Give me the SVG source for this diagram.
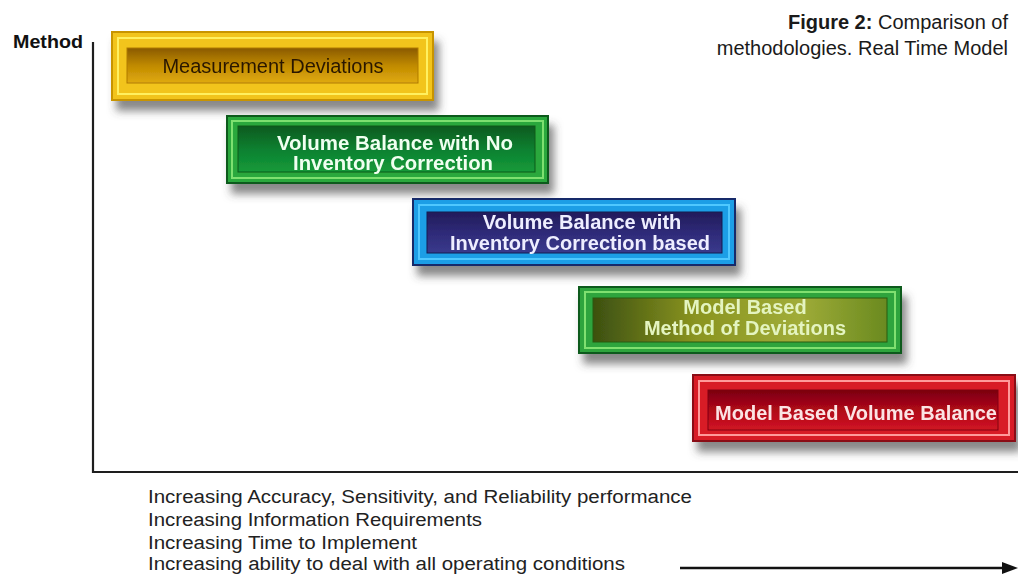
<svg xmlns="http://www.w3.org/2000/svg" width="1018" height="575" viewBox="0 0 1018 575">
<defs>
<filter id="sh" x="-10%" y="-20%" width="130%" height="160%">
<feDropShadow dx="5" dy="10" stdDeviation="4" flood-color="#4a4a4a" flood-opacity="0.65"/>
</filter>
<linearGradient id="gY" x1="0" y1="0" x2="0" y2="1"><stop offset="0" stop-color="#8a5a00"/><stop offset="0.5" stop-color="#c08a00"/><stop offset="1" stop-color="#e0aa10"/></linearGradient>
<linearGradient id="gG" x1="0" y1="0" x2="0" y2="1"><stop offset="0" stop-color="#0a5a20"/><stop offset="0.5" stop-color="#0e8030"/><stop offset="1" stop-color="#149a3a"/></linearGradient>
<linearGradient id="gB" x1="0" y1="0" x2="0" y2="1"><stop offset="0" stop-color="#221c5a"/><stop offset="0.5" stop-color="#2e2a78"/><stop offset="1" stop-color="#3a3a8c"/></linearGradient>
<linearGradient id="gO" x1="0" y1="0" x2="1" y2="0"><stop offset="0" stop-color="#3c5010"/><stop offset="0.35" stop-color="#8a9420"/><stop offset="0.7" stop-color="#a0ac38"/><stop offset="1" stop-color="#6a8a20"/></linearGradient>
<linearGradient id="gR" x1="0" y1="0" x2="0" y2="1"><stop offset="0" stop-color="#7a0010"/><stop offset="0.5" stop-color="#b00818"/><stop offset="1" stop-color="#d01424"/></linearGradient>
</defs>
<style>
text{font-family:"Liberation Sans",Arial,sans-serif}
.bt{font-size:20px;font-weight:bold;text-anchor:middle}
.ax{stroke:#1e1e1e;stroke-width:2.2;fill:none}
.lbl{font-size:18px;fill:#222}
</style>
<rect width="1018" height="575" fill="#ffffff"/>

<g id="caption">
<text x="1008" y="29" font-size="20" text-anchor="end" fill="#1a1a1a"><tspan font-weight="bold">Figure 2:</tspan> Comparison of</text>
<text x="1008" y="55" font-size="20" text-anchor="end" fill="#1a1a1a">methodologies. Real Time Model</text>
</g>

<g id="axes">
<text x="13" y="48" font-size="19" font-weight="bold" fill="#111" textLength="70" lengthAdjust="spacingAndGlyphs">Method</text>
<path class="ax" d="M93,42 V472 H1018"/>
</g>

<g id="box1" filter="url(#sh)">
<rect x="112" y="32" width="321" height="68" fill="#f2c41c" stroke="#c89400" stroke-width="2"/>
<rect x="118" y="38" width="309" height="56" fill="none" stroke="#fff060" stroke-width="2"/>
<rect x="127" y="48" width="291" height="35" fill="url(#gY)" stroke="#b07a00" stroke-width="1"/>
<text x="273" y="73" font-size="20" text-anchor="middle" fill="#2a1800">Measurement Deviations</text>
</g>

<g id="box2" filter="url(#sh)">
<rect x="227" y="116" width="321" height="67" fill="#2ca83c" stroke="#0c5a1c" stroke-width="2"/>
<rect x="232" y="121" width="311" height="57" fill="none" stroke="#7ee070" stroke-width="2"/>
<rect x="238" y="126" width="297" height="46" fill="url(#gG)" stroke="#0a5a1a" stroke-width="1"/>
<text class="bt" x="395" y="150" font-size="18" fill="#f0fff0" textLength="236" lengthAdjust="spacingAndGlyphs">Volume Balance with No</text>
<text class="bt" x="393" y="170" font-size="18" fill="#f0fff0" textLength="200" lengthAdjust="spacingAndGlyphs">Inventory Correction</text>
</g>

<g id="box3" filter="url(#sh)">
<rect x="413" y="199" width="322" height="66" fill="#1e9ee6" stroke="#142a6a" stroke-width="2"/>
<rect x="419" y="205" width="310" height="54" fill="none" stroke="#50c8ff" stroke-width="2"/>
<rect x="427" y="212" width="295" height="41" fill="url(#gB)" stroke="#141a50" stroke-width="1"/>
<text class="bt" x="582" y="229" fill="#eeeeff">Volume Balance with</text>
<text class="bt" x="580" y="250" fill="#eeeeff">Inventory Correction based</text>
</g>

<g id="box4" filter="url(#sh)">
<rect x="579" y="287" width="322" height="66" fill="#2ea43c" stroke="#0c5a1c" stroke-width="2"/>
<rect x="585" y="292" width="310" height="56" fill="none" stroke="#80e070" stroke-width="2"/>
<rect x="593" y="298" width="294" height="44" fill="url(#gO)" stroke="#2a5a10" stroke-width="1"/>
<text class="bt" x="745" y="314" fill="#e4f4c0">Model Based</text>
<text class="bt" x="745" y="335" fill="#e4f4c0">Method of Deviations</text>
</g>

<g id="box5" filter="url(#sh)">
<rect x="693" y="375" width="322" height="66" fill="#d81e26" stroke="#8a0a12" stroke-width="2"/>
<rect x="699" y="381" width="310" height="54" fill="none" stroke="#ff9a9a" stroke-width="2"/>
<rect x="708" y="390" width="290" height="40" fill="url(#gR)" stroke="#800010" stroke-width="1"/>
<text class="bt" x="856" y="420" fill="#fbe4e4">Model Based Volume Balance</text>
</g>

<g id="legend">
<text class="lbl" x="148" y="503" textLength="544" lengthAdjust="spacingAndGlyphs">Increasing Accuracy, Sensitivity, and Reliability performance</text>
<text class="lbl" x="148" y="526" textLength="334" lengthAdjust="spacingAndGlyphs">Increasing Information Requirements</text>
<text class="lbl" x="148" y="549" textLength="269" lengthAdjust="spacingAndGlyphs">Increasing Time to Implement</text>
<text class="lbl" x="148" y="570" textLength="477" lengthAdjust="spacingAndGlyphs">Increasing ability to deal with all operating conditions</text>
</g>

<g id="connectors">
<line x1="680" y1="568" x2="1003" y2="568" stroke="#111" stroke-width="2.6"/>
<polygon points="1002,562 1018,568 1002,574" fill="#111"/>
</g>
</svg>
